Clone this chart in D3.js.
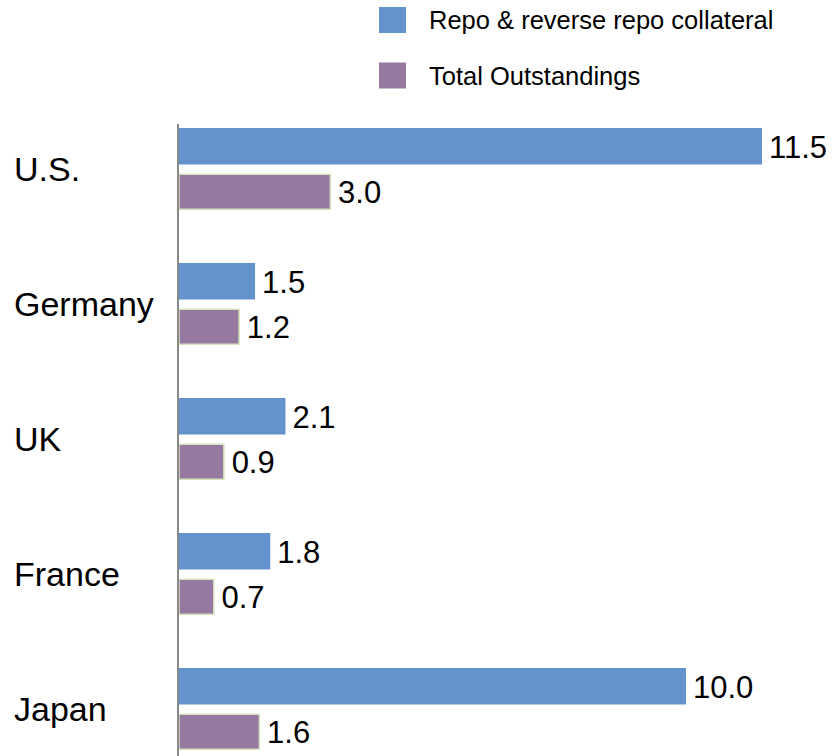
<!DOCTYPE html>
<html>
<head>
<meta charset="utf-8">
<script src="https://cdn.jsdelivr.net/npm/d3@7/dist/d3.min.js"></script>
<style>
  html, body { margin: 0; padding: 0; background: #fff; }
  svg { display: block; font-family: "Liberation Sans", Arial, sans-serif; }
</style>
</head>
<body>
<svg id="chart" width="832" height="756"></svg>
<script>
// Countries (top to bottom)
const countries = ["U.S.", "Germany", "UK", "France", "Japan"];
// Series
const seriesNames = ["Repo & reverse repo collateral", "Total Outstandings"];
const repoCollateral = [11.5, 1.5, 2.1, 1.8, 10.0];
const totalOutstandings = [3.0, 1.2, 0.9, 0.7, 1.6];

const colors = ["#6492cc", "#9679a0"];
const totalStroke = "#d5e3bd";

const svg = d3.select("#chart");

const x = d3.scaleLinear().domain([0, 12]).range([179, 179 + 12 * 50.7]);

const y = d3.scaleBand()
  .domain(countries)
  .range([101.5, 776.5])
  .paddingInner(53 / 135)
  .paddingOuter(53 / 270);

const ySeries = d3.scaleBand()
  .domain([0, 1])
  .range([0, y.bandwidth()])
  .paddingInner(0.198)
  .paddingOuter(0);

const rows = countries.map((c, i) => ({
  country: c,
  values: [repoCollateral[i], totalOutstandings[i]]
}));

// Bars
const groups = svg.selectAll("g.country")
  .data(rows)
  .join("g")
  .attr("class", "country")
  .attr("transform", d => `translate(0,${y(d.country)})`);

groups.selectAll("rect")
  .data(d => d.values.map((v, s) => ({ v, s })))
  .join("rect")
  .attr("x", x(0))
  .attr("y", d => ySeries(d.s) + (d.s === 1 ? 0.75 : 0))
  .attr("width", d => d.s === 1 ? x(d.v) - x(0) - 0.75 : x(d.v) - x(0))
  .attr("height", d => d.s === 1 ? ySeries.bandwidth() - 1.5 : ySeries.bandwidth())
  .attr("fill", d => colors[d.s])
  .attr("stroke", d => d.s === 1 ? totalStroke : "none")
  .attr("stroke-width", 1.5);

// Value labels
groups.selectAll("text.value")
  .data(d => d.values.map((v, s) => ({ v, s })))
  .join("text")
  .attr("class", "value")
  .attr("x", d => x(d.v) + 7)
  .attr("y", d => ySeries(d.s) + ySeries.bandwidth() / 2 + 11.5)
  .attr("font-size", 31)
  .attr("fill", "#000")
  .text(d => d.v.toFixed(1));

// Category labels
svg.selectAll("text.cat")
  .data(countries)
  .join("text")
  .attr("class", "cat")
  .attr("x", 14)
  .attr("y", d => y(d) + y.bandwidth() / 2 + 12)
  .attr("font-size", 34)
  .attr("fill", "#000")
  .text(d => d);

// Vertical category axis line
svg.append("line")
  .attr("x1", 178).attr("x2", 178)
  .attr("y1", 124).attr("y2", 756)
  .attr("stroke", "#898989")
  .attr("stroke-width", 2);

// Legend
const legend = svg.append("g").attr("transform", "translate(379,0)");
const legendItems = legend.selectAll("g")
  .data(seriesNames)
  .join("g")
  .attr("transform", (d, i) => `translate(0,${7 + i * 55.5})`);

legendItems.append("rect")
  .attr("width", 27)
  .attr("height", 26)
  .attr("fill", (d, i) => colors[i]);

legendItems.append("text")
  .attr("x", 50)
  .attr("y", 22)
  .attr("font-size", 25.5)
  .attr("fill", "#000")
  .text(d => d);
</script>
</body>
</html>
